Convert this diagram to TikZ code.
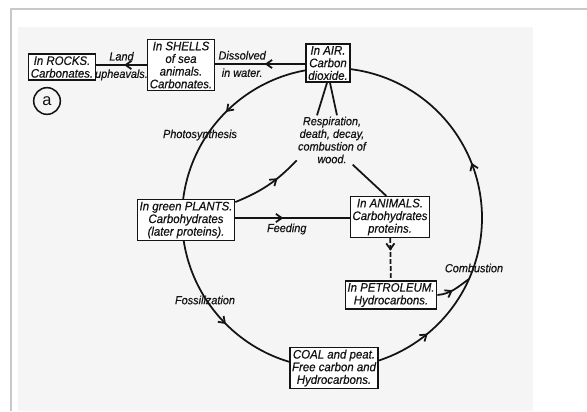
\documentclass[tikz,border=0pt]{standalone}
\usepackage{fontspec}
\setmainfont[FakeStretch=0.93, FakeBold=0.5]{Liberation Sans}
\newfontfamily\tagfont{Liberation Sans}
\usepackage{tikz}
\usetikzlibrary{arrows.meta, calc, backgrounds, decorations.markings}
\definecolor{cycink}{RGB}{20,20,20}
\definecolor{cycpaper}{RGB}{245,245,245}
\definecolor{cycframe}{RGB}{200,200,200}
\tikzset{
  %% ---- boxes ----
  store/.style  = {rectangle, draw=cycink, line width=1.3pt,
                   fill=white, align=center, inner sep=1.8pt},
  %% ---- lines ----
  flow/.style   = {line width=1.5pt, color=cycink},
  midarr/.style = {postaction={decorate},
                   decoration={markings, mark=at position #1 with
                     {\arrow{Straight Barb[length=5pt,width=7pt]}}}},
  midarr/.default = 0.5,
}

\begin{document}
\begin{tikzpicture}[
  x=0.03cm, y=0.03cm,
  every node/.style = {font=\fontsize{10.5}{10.8}\selectfont\itshape,
                       text=cycink},
  lbl/.style = {inner sep=1pt, align=center,
                font=\fontsize{10}{10.8}\selectfont\itshape}
]
\useasboundingbox (0,0) rectangle (587,-411);

%% ── top row: rocks, shells, air ──────────────────────────────────────────
\node[store] (rock) at (62,-67)  {In ROCKS.\\Carbonates.};
\node[store] (shel) at (181,-65) {In SHELLS\\of sea\\animals.\\Carbonates.};
\node[store] (air)  at (328,-63) {In AIR.\\Carbon\\dioxide.};

\node[circle, draw=cycink, line width=1.3pt, minimum size=0.8cm, inner sep=0pt,
      font=\fontsize{14}{14}\selectfont\tagfont]
  (tag) at (47,-101) {a};

%% ── middle: plants, respiration, animals, petroleum ──────────────────────
\node[store] (plnt) at (186,-220) {In green PLANTS.\\Carbohydrates\\(later proteins).};
\node[lbl]   (resp) at (332,-140) {Respiration,\\death, decay,\\combustion of\\wood.};
\node[store] (anim) at (390,-217) {In ANIMALS.\\Carbohydrates\\proteins.};
\node[store] (petr) at (391,-295) {In PETROLEUM.\\Hydrocarbons.};

%% ── bottom: coal ─────────────────────────────────────────────────────────
\node[store] (coal) at (334,-368) {COAL and peat.\\Free carbon and\\Hydrocarbons.};

%% ── the big cycle (behind the boxes) ─────────────────────────────────────
\coordinate (c) at (332,-218);
\coordinate (comb) at ([shift={(336:4.5cm)}]c);
\begin{scope}[on background layer]
  % paper and frame
  \fill[cycpaper] (18,-27) rectangle (533,-411);
  \draw[cycframe, line width=1.3pt] (11,-411) -- (11,-9) -- (587,-9);
  % cycle
  \draw[flow, midarr] ([shift={(90:4.5cm)}]c)
    arc[start angle=90, end angle=180, radius=4.5cm];
  \draw[flow, midarr] ([shift={(180:4.5cm)}]c)
    arc[start angle=180, end angle=270, radius=4.5cm];
  \draw[flow, midarr=0.6] ([shift={(270:4.5cm)}]c)
    arc[start angle=270, end angle=336, radius=4.5cm];
  \draw[flow, midarr=0.4] (comb)
    arc[start angle=336, end angle=450, radius=4.5cm];
\end{scope}

%% ── cycle labels ─────────────────────────────────────────────────────────
\node[lbl] (phot) at (200,-135) {Photosynthesis};
\node[lbl] (foss) at (205,-300) {Fossilization};
\node[lbl] (cmbl) at (474,-268) {Combustion};

%% ── top row arrows ───────────────────────────────────────────────────────
\draw[flow, midarr=0.45] (air.west |- 0,-64) -- (shel.east |- 0,-64)
  node[lbl, pos=0.7, above=2pt] {Dissolved}
  node[lbl, pos=0.7, below=2pt] {in water.};
\draw[flow, midarr=0.45] (shel.west |- 0,-65) -- (rock.east |- 0,-65)
  node[lbl, pos=0.5, above=2pt] {Land}
  node[lbl, pos=0.5, below=2pt] {upheavals.};

%% ── inner triangle ───────────────────────────────────────────────────────
\draw[flow] ($(air.south)+(-1,0)$) -- ($(resp.north)+(-15,0)$);
\draw[flow] ($(air.south)+(2,0)$)  -- ($(resp.north)+(5,0)$);
\draw[flow, midarr=0.65] (plnt.20) to[bend right=12] (resp.210);
\draw[flow] (resp.-50) -- (anim.100);
\draw[flow, midarr=0.42] (plnt.east |- 0,-218) -- (anim.west |- 0,-218)
  node[lbl, pos=0.45, below=3pt] {Feeding};

%% ── petroleum ────────────────────────────────────────────────────────────
\draw[flow, dash pattern=on 4pt off 2pt, midarr=0.3] (anim) -- (petr);
\draw[flow, midarr=0.45] (petr.east) to[out=5, in=215] (comb);

\end{tikzpicture}
\end{document}
